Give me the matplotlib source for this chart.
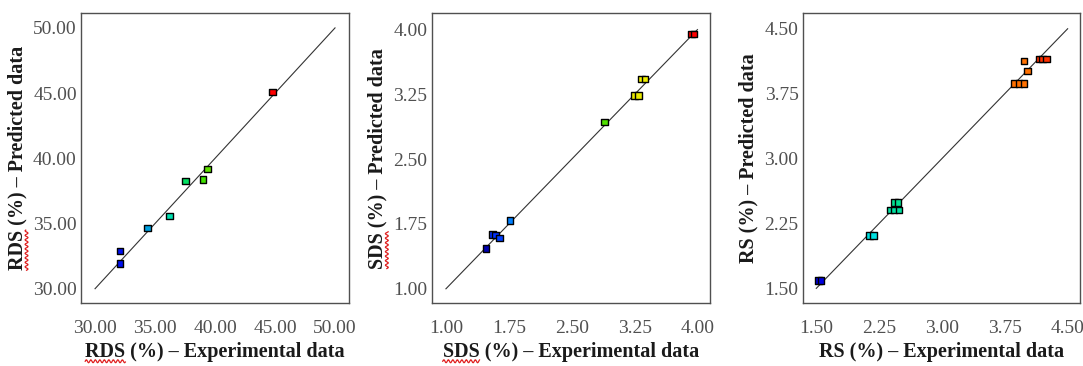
import matplotlib.pyplot as plt
import numpy as np
from matplotlib.lines import Line2D

plt.rcParams['font.family'] = ['Liberation Serif', 'DejaVu Serif']

# RDS panel
rds_exp = [32.08, 32.08, 34.39, 36.19, 37.53, 39.00, 39.39, 44.81]
rds_pred = [32.89, 31.95, 34.67, 35.57, 38.25, 38.38, 39.17, 45.07]
rds_col = ['#0010f0', '#0010f0', '#00a0e0', '#00e0b0', '#00e060', '#40e000', '#60e000', '#ff0000']

# SDS panel
sds_exp = [1.477, 1.553, 1.589, 1.637, 1.764, 2.89, 3.247, 3.295, 3.335, 3.375, 3.93, 3.96]
sds_pred = [1.467, 1.630, 1.625, 1.587, 1.790, 2.93, 3.240, 3.240, 3.427, 3.427, 3.95, 3.95]
sds_col = ['#0000b0', '#0030ff', '#0030ff', '#0040ff', '#0080ff', '#50e000',
           '#e8e800', '#e8e800', '#f0f000', '#f0f000', '#ff0000', '#ff0000']

# RS panel
rs_exp = [1.524, 1.556, 2.137, 2.185, 2.38, 2.43, 2.49, 2.436, 2.476,
          3.86, 3.92, 3.98, 4.02, 3.98, 4.16, 4.20, 4.25]
rs_pred = [1.59, 1.59, 2.11, 2.11, 2.405, 2.405, 2.405, 2.49, 2.49,
           3.87, 3.87, 3.87, 4.01, 4.13, 4.15, 4.15, 4.15]
rs_col = ['#0000e0', '#0000e0', '#00e0e0', '#00e0e0', '#00e0a0', '#00e0a0', '#00e0a0',
          '#00e090', '#00e090', '#ff7000', '#ff7000', '#ff7000', '#ff7000', '#ff7000',
          '#ff3000', '#ff3000', '#ff3000']

panels = [
    dict(x=rds_exp, y=rds_pred, c=rds_col, lo=30, hi=50, ticks=[30, 35, 40, 45, 50],
         xlim=(28.83, 51.17), ylim=(28.9, 51.13), name='RDS', squiggle=True,
         pos=[0.0748, 0.172, 0.2475, 0.792]),
    dict(x=sds_exp, y=sds_pred, c=sds_col, lo=1.0, hi=4.0, ticks=[1.0, 1.75, 2.5, 3.25, 4.0],
         xlim=(0.83, 4.15), ylim=(0.835, 4.19), name='SDS', squiggle=True,
         pos=[0.3986, 0.172, 0.257, 0.792]),
    dict(x=rs_exp, y=rs_pred, c=rs_col, lo=1.5, hi=4.5, ticks=[1.5, 2.25, 3.0, 3.75, 4.5],
         xlim=(1.338, 4.647), ylim=(1.33, 4.68), name='RS', squiggle=False,
         pos=[0.7412, 0.172, 0.256, 0.792]),
]

fig = plt.figure(figsize=(10.83, 3.66), dpi=100)
labels = []

for p in panels:
    ax = fig.add_axes(p['pos'])
    ax.plot([p['lo'], p['hi']], [p['lo'], p['hi']], color='#333333', lw=0.8, zorder=1)
    ax.scatter(p['x'], p['y'], c=p['c'], marker='s', s=22, edgecolors='black',
               linewidths=1.0, zorder=3)
    ax.set_xlim(p['xlim'])
    ax.set_ylim(p['ylim'])
    ax.set_xticks(p['ticks'])
    ax.set_yticks(p['ticks'])
    ax.set_xticklabels(['%.2f' % t for t in p['ticks']])
    ax.set_yticklabels(['%.2f' % t for t in p['ticks']])
    ax.tick_params(length=0, labelsize=14, colors='#505050')
    ax.tick_params(axis='x', pad=12)
    ax.tick_params(axis='y', pad=3)
    for s in ax.spines.values():
        s.set_color('#505050')
        s.set_linewidth(1.0)
    xl = ax.set_xlabel(p['name'] + ' (%) \u2013 Experimental data', fontsize=14.5,
                       fontweight='bold', color='#1a1a1a', labelpad=4)
    yl = ax.set_ylabel(p['name'] + ' (%) \u2013 Predicted data', fontsize=14.5,
                       fontweight='bold', color='#1a1a1a', labelpad=4)
    if p['squiggle']:
        labels.append((p['name'], xl, yl))

# red spell-check squiggles under the abbreviations
fig.canvas.draw()
r = fig.canvas.get_renderer()
for name, xl, yl in labels:
    tmp = fig.text(0, 0, name, fontsize=14.5, fontweight='bold')
    w = tmp.get_window_extent(r).width
    tmp.remove()
    bx = xl.get_window_extent(r)
    by = yl.get_window_extent(r)
    t = np.linspace(0, w, 60)
    wave = 1.5 * np.sin(t / w * np.pi * 2 * (w / 4.5))
    fig.add_artist(Line2D((bx.x0 + t) / fig.bbox.width, (bx.y0 + 1 + wave) / fig.bbox.height,
                          color='#e02020', lw=0.9))
    fig.add_artist(Line2D((by.x1 - 1 + wave) / fig.bbox.width, (by.y0 + t) / fig.bbox.height,
                          color='#e02020', lw=0.9))

fig.savefig('out.png', dpi=100, facecolor='white')
